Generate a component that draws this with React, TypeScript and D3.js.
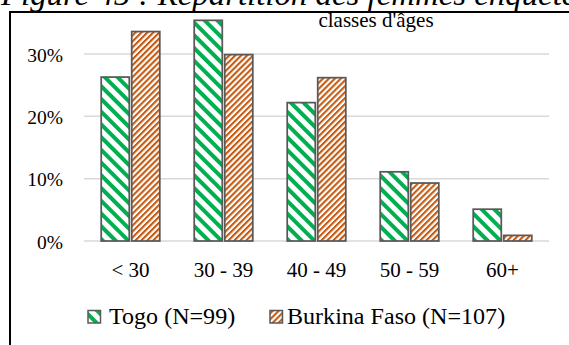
import React from "react";
import * as d3 from "d3";

const categories = ["< 30", "30 - 39", "40 - 49", "50 - 59", "60+"];
const seriesNames = ["Togo (N=99)", "Burkina Faso (N=107)"];
const togoValues = [0.263, 0.354, 0.222, 0.111, 0.051];
const burkinaValues = [0.336, 0.299, 0.262, 0.093, 0.009];
const yTicks = [0, 0.1, 0.2, 0.3];

const W = 569;
const H = 345;
const FONT = "Liberation Serif, Times New Roman, serif";
const ts = (size: number, extra: any = {}) => ({ fontFamily: FONT, fontSize: size + "px", ...extra });

export default function App() {
  const x0 = d3
    .scaleBand<string>()
    .domain(categories)
    .range([84, 549])
    .paddingInner(0.37)
    .paddingOuter(0.185);
  const x1 = d3
    .scaleBand<string>()
    .domain(seriesNames)
    .range([0, x0.bandwidth()])
    .paddingInner(0.08);
  const y = d3.scaleLinear().domain([0, 0.3]).range([241, 54]);
  const fmt = d3.format(".0%");

  const series = [
    { name: seriesNames[0], values: togoValues, fill: "url(#pTogo)" },
    { name: seriesNames[1], values: burkinaValues, fill: "url(#pBurkina)" },
  ];

  const legendItems = [
    { name: seriesNames[0], fill: "url(#pTogo)", sx: 88, tx: 109 },
    { name: seriesNames[1], fill: "url(#pBurkina)", sx: 270, tx: 287 },
  ];

  return (
    <svg
      width={W}
      height={H}
      style={{ position: "absolute", left: 0, top: 0, display: "block", background: "#fff" }}
    >
      <defs>
        <pattern
          id="pTogo"
          patternUnits="userSpaceOnUse"
          width={9}
          height={9}
          patternTransform="rotate(-45)"
        >
          <rect x={0} y={0} width={9} height={9} fill="#ffffff" />
          <rect x={0} y={0} width={4} height={9} fill="#00B050" />
        </pattern>
        <pattern
          id="pBurkina"
          patternUnits="userSpaceOnUse"
          width={4.2}
          height={4.2}
          patternTransform="rotate(45)"
        >
          <rect x={0} y={0} width={4.2} height={4.2} fill="#ffffff" />
          <rect x={0} y={0} width={2.1} height={4.2} fill="#C55A11" />
        </pattern>
      </defs>

      <rect x={0} y={0} width={W} height={H} fill="#fff" />

      {/* Figure title (cut off at top, as in the source page) */}
      <g transform="translate(1,5) scale(1.06,1)">
        <text x={0} y={0} style={ts(31, { fontStyle: "italic" })} fill="#000">
          Figure 45 : Répartition des femmes enquêtées
        </text>
      </g>

      {/* frame */}
      <line x1={10} y1={12} x2={W} y2={12} stroke="#000" strokeWidth={2} />
      <line x1={10} y1={11} x2={10} y2={H} stroke="#000" strokeWidth={2} />

      {/* chart title */}
      <text x={376} y={26.5} style={ts(21)} textAnchor="middle" fill="#000">
        classes d'âges
      </text>

      {/* gridlines */}
      {yTicks.map((t) => (
        <line
          key={"g" + t}
          x1={84}
          x2={549}
          y1={y(t)}
          y2={y(t)}
          stroke="#D9D9D9"
          strokeWidth={1.5}
        />
      ))}

      {/* y labels */}
      {yTicks.map((t) => (
        <text
          key={"yl" + t}
          x={63}
          y={y(t) + 7.5}
          style={ts(19.5)}
          textAnchor="end"
          fill="#000"
        >
          {fmt(t)}
        </text>
      ))}

      {/* bars */}
      {categories.map((c, i) => (
        <g key={c} transform={`translate(${x0(c)},0)`}>
          {series.map((s) => (
            <rect
              key={s.name}
              x={x1(s.name)}
              y={y(s.values[i])}
              width={x1.bandwidth()}
              height={y(0) - y(s.values[i])}
              fill={s.fill}
              stroke="#595959"
              strokeWidth={1.75}
            />
          ))}
        </g>
      ))}

      {/* category labels */}
      {categories.map((c) => (
        <text
          key={"cl" + c}
          x={(x0(c) as number) + x0.bandwidth() / 2}
          y={277}
          style={ts(21)}
          textAnchor="middle"
          fill="#000"
        >
          {c}
        </text>
      ))}

      {/* legend */}
      {legendItems.map((l) => (
        <g key={l.name}>
          <rect
            x={l.sx}
            y={310.5}
            width={12.5}
            height={12.5}
            fill={l.fill}
            stroke="#595959"
            strokeWidth={1.5}
          />
          <g transform={`translate(${l.tx},324) scale(1.07,1)`}>
            <text x={0} y={0} style={ts(22.5)} fill="#000">
              {l.name}
            </text>
          </g>
        </g>
      ))}
    </svg>
  );
}
